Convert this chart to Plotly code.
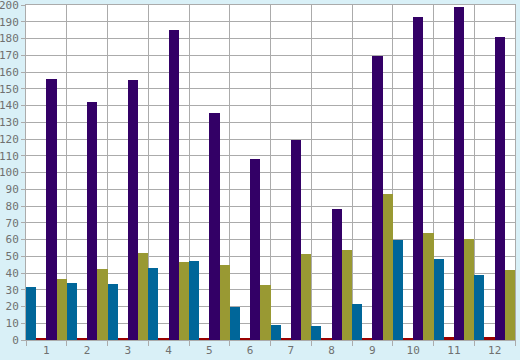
import plotly.graph_objects as go

categories = ["1", "2", "3", "4", "5", "6", "7", "8", "9", "10", "11", "12"]
series_blue = [31.6, 34, 33.4, 43, 47.2, 19.7, 9, 8.4, 21.5, 59.7, 48.4, 38.8]
series_red = [0.8, 0.8, 0.8, 0.8, 0.8, 0.8, 0.8, 0.8, 0.8, 0.8, 1.5, 1.5]
series_purple = [156, 142, 155, 185, 135.5, 108, 119.5, 78, 169.5, 193, 199, 181]
series_olive = [36.4, 42.4, 52, 46.6, 44.8, 32.8, 51.3, 53.7, 87.2, 63.9, 60.3, 41.8]
y_ticks = list(range(0, 201, 10))

x = list(range(1, len(categories) + 1))
grid = "#ababab"
txt = "#707070"

fig = go.Figure()
for name, vals, col in [
    ("Series 1", series_blue, "#006699"),
    ("Series 2", series_red, "#990000"),
    ("Series 3", series_purple, "#330066"),
    ("Series 4", series_olive, "#999933"),
]:
    fig.add_trace(go.Bar(x=x, y=vals, name=name, marker=dict(color=col, line=dict(width=0))))

fig.update_layout(
    width=520, height=360,
    margin=dict(l=26, r=5, t=5, b=20, autoexpand=False),
    paper_bgcolor="#d9f0f7",
    plot_bgcolor="#ffffff",
    barmode="group", bargap=0, bargroupgap=0,
    showlegend=False,
    font=dict(family="DejaVu Sans Mono", size=11, color=txt),
)
fig.update_xaxes(
    automargin=False,
    layer="below traces",
    ticklabeloverflow="allow",
    range=[0.5, len(categories) + 0.5],
    tickmode="array", tickvals=x, ticktext=categories,
    showgrid=False, ticks="",
    showline=True, linecolor=grid, linewidth=1, mirror=True,
    minor=dict(tickmode="array", tickvals=[i + 0.5 for i in range(0, len(categories) + 1)],
               showgrid=True, gridcolor=grid, gridwidth=1,
               ticks="outside", ticklen=5, tickcolor=grid, tickwidth=1),
    zeroline=False,
)
fig.update_yaxes(
    automargin=False,
    layer="below traces",
    ticklabeloverflow="allow",
    range=[0, 200],
    tickmode="array", tickvals=y_ticks,
    showgrid=True, gridcolor=grid, gridwidth=1,
    ticks="outside", ticklen=4, tickcolor=grid,
    showline=True, linecolor=grid, linewidth=1, mirror=True,
    zeroline=False,
)

fig.write_html(
    "out.html",
    config={"displayModeBar": False},
    post_script="document.body.style.margin='0';document.body.style.padding='0';document.body.style.overflow='hidden';",
)
